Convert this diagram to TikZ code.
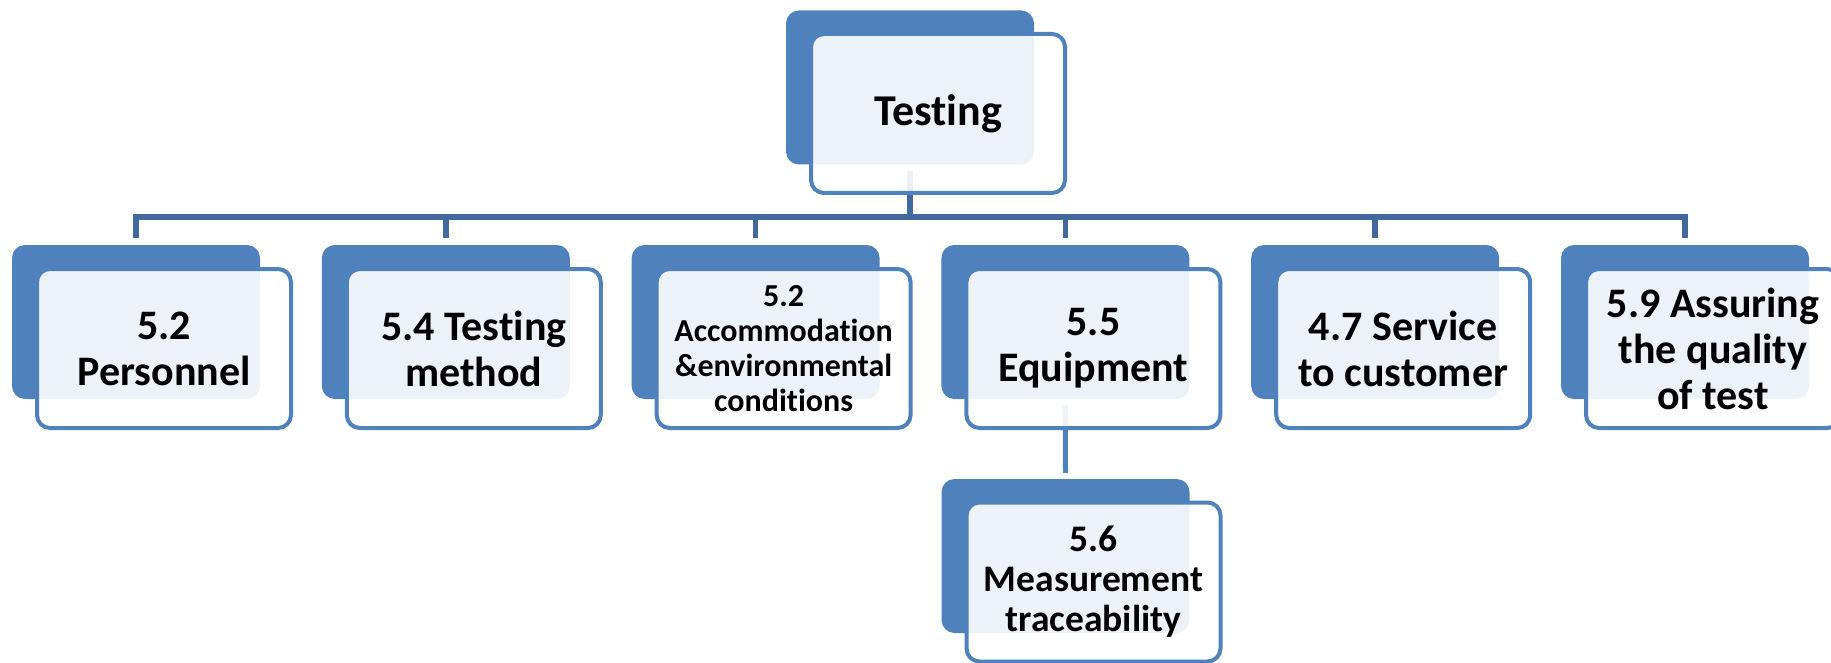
\documentclass[tikz,border=0pt]{standalone}
\usepackage{fontspec}
\setmainfont{Carlito}[Ligatures=NoCommon]
\definecolor{boxblue}{HTML}{4F81BD}
\definecolor{linkblue}{HTML}{41699E}
\begin{document}
\begin{tikzpicture}[x=1pt,y=-1pt,
  backbox/.style={rectangle, rounded corners=13pt, fill=boxblue, draw=none,
    minimum width=248pt, minimum height=154pt, inner sep=0pt},
  frontbox/.style={rectangle, rounded corners=13pt, fill=white, fill opacity=0.9,
    text opacity=1, draw=boxblue, draw opacity=1, line width=4pt,
    minimum width=254pt, minimum height=159pt, inner sep=0pt, align=center,
    font=\fontsize{42}{46}\selectfont\bfseries},
  smalltext/.style={font=\fontsize{32}{35}\selectfont\bfseries},
  midtext/.style={font=\fontsize{37.5}{40}\selectfont\bfseries},
  conn/.style={draw=linkblue, line width=5.5pt},
  conntwo/.style={draw=boxblue, line width=5pt}]
\clip (0,0) rectangle (1831,663);
\fill[white] (0,0) rectangle (1831,663);

% back plates (positions)
\node[backbox] (tb) at (910,87.5) {};
\foreach \i in {1,...,6} {
  \node[backbox] (b\i) at ({136+309.8*(\i-1)},322) {};
}
\node[backbox] (mb) at (1065.5,556) {};

% connectors, drawn beneath the front cards
\coordinate (bus) at (910,217);
\draw[conn, shorten <=6pt] (tb.south) -- (bus);
\draw[conn, line cap=rect] (b1.north |- bus) -- (b6.north |- bus);
\foreach \i in {1,...,6} {
  \draw[conn, shorten >=7pt] (b\i.north |- bus) -- (b\i.north);
}
\draw[conntwo, shorten <=6pt, shorten >=6pt] (b4.south) -- (mb.north);

% front cards with labels
\node[frontbox, font=\fontsize{44}{48}\selectfont\bfseries] (tf) at (938,113.5) {Testing};
\node[frontbox] (f1) at ({164+309.8*0},348.5) {5.2\\Personnel};
\node[frontbox] (f2) at ({164+309.8*1},348.5) {5.4 Testing\\method};
\node[frontbox, smalltext] (f3) at ({164+309.8*2},348.5) {5.2\\Accommodation\\\&environmental\\conditions};
\node[frontbox] (f4) at ({164+309.8*3},348.5) {5.5\\Equipment};
\node[frontbox] (f5) at ({164+309.8*4},348.5) {4.7 Service\\to customer};
\node[frontbox] (f6) at ({164+309.8*5},348.5) {5.9 Assuring\\the quality\\of test};
\node[frontbox, midtext] (mf) at (1093.5,582) {5.6\\Measurement\\traceability};
\end{tikzpicture}
\end{document}
